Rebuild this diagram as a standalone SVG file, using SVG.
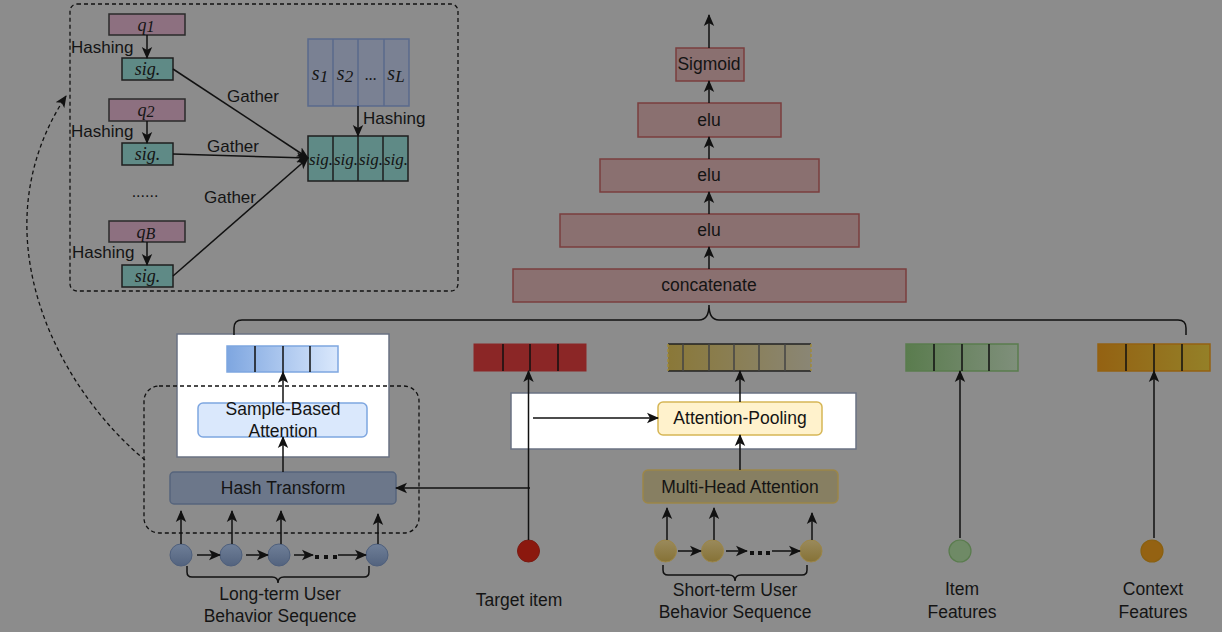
<svg xmlns="http://www.w3.org/2000/svg" width="1222" height="632" viewBox="0 0 1222 632">
<defs>
<style>
text{font-family:"Liberation Sans",Arial,sans-serif;fill:#141414;}
.t16{font-size:17.5px;text-anchor:middle;}
.t15{font-size:17px;}
.math{font-family:"Liberation Serif","Times New Roman",serif;font-style:italic;text-anchor:middle;}
.ln{stroke:#111;stroke-width:1.5;fill:none;}
.dash{stroke:#111;stroke-width:1.3;fill:none;stroke-dasharray:4 3;}
.qbox{fill:#8d7080;stroke:#2a2a2a;stroke-width:1.5;}
.sig{fill:#5f8a86;stroke:#1e1e1e;stroke-width:1.5;}
.sbox{fill:#7a8193;stroke:#5a6a8c;stroke-width:1.5;}
.dnn{fill:#8a7070;stroke:#7a3e3e;stroke-width:1.5;}
.cell{stroke:#111;stroke-width:1.5;}
</style>
<marker id="ah" viewBox="0 0 12 12" refX="11" refY="6" markerWidth="12" markerHeight="12" markerUnits="userSpaceOnUse" orient="auto">
<path d="M0,0.8 L12,6 L0,11.2 L3,6 z" fill="#111"/>
</marker>
<linearGradient id="gBlue" x1="0" y1="0" x2="1" y2="0"><stop offset="0" stop-color="#7ea6e0"/><stop offset="1" stop-color="#dae8fc"/></linearGradient>
<linearGradient id="gShort" x1="0" y1="0" x2="1" y2="0"><stop offset="0" stop-color="#8a7838"/><stop offset="1" stop-color="#8a8675"/></linearGradient>
<linearGradient id="gGreen" x1="0" y1="0" x2="1" y2="0"><stop offset="0" stop-color="#5a7c4e"/><stop offset="1" stop-color="#7f8f7b"/></linearGradient>
<linearGradient id="gCtx" x1="0" y1="0" x2="1" y2="0"><stop offset="0" stop-color="#946212"/><stop offset="1" stop-color="#948028"/></linearGradient>
<linearGradient id="gLong" x1="0" y1="0" x2="0" y2="1"><stop offset="0" stop-color="#6f7f98"/><stop offset="1" stop-color="#53637e"/></linearGradient>
<linearGradient id="gSc" x1="0" y1="0" x2="0" y2="1"><stop offset="0" stop-color="#9a8a5c"/><stop offset="1" stop-color="#867236"/></linearGradient>
</defs>
<rect width="1222" height="632" fill="#8c8c8c"/>

<!-- Hashing detail panel -->
<g id="hash-panel">
<rect x="70" y="4" width="388" height="287" rx="7" class="dash"/>
<g id="q1"><rect x="109" y="14" width="76" height="21" class="qbox"/><text x="146" y="31" class="math" font-size="18">q<tspan font-size="16" dy="1">1</tspan></text></g>
<g id="sig1"><rect x="122" y="58" width="51" height="22" class="sig"/><text x="147.5" y="75" class="math" font-size="18">sig.</text></g>
<g id="q2"><rect x="109" y="99" width="76" height="22" class="qbox"/><text x="146" y="116" class="math" font-size="18">q<tspan font-size="16" dy="1">2</tspan></text></g>
<g id="sig2"><rect x="122" y="143" width="51" height="22" class="sig"/><text x="147.5" y="160" class="math" font-size="18">sig.</text></g>
<g id="qB"><rect x="109" y="221" width="76" height="21" class="qbox"/><text x="146" y="238" class="math" font-size="18">q<tspan font-size="16" dy="1">B</tspan></text></g>
<g id="sigB"><rect x="122" y="265" width="51" height="22" class="sig"/><text x="147.5" y="282" class="math" font-size="18">sig.</text></g>
<text x="145" y="197" font-size="16" text-anchor="middle">......</text>
<g id="s-seq">
<rect x="308" y="39" width="101" height="67" class="sbox"/>
<path d="M333,39V106M358,39V106M384,39V106" stroke="#5a6a8c" stroke-width="1.5"/>
<text x="320" y="80" class="math" font-size="20">s<tspan font-size="17" dy="2">1</tspan></text>
<text x="345" y="80" class="math" font-size="20">s<tspan font-size="17" dy="2">2</tspan></text>
<text x="371" y="80" class="math" font-size="16" font-style="normal">...</text>
<text x="396" y="80" class="math" font-size="20">s<tspan font-size="17" dy="2">L</tspan></text>
</g>
<g id="sig-seq">
<rect x="308" y="136" width="100" height="45" class="sig"/>
<path d="M333,136V181M358,136V181M383,136V181" stroke="#1e1e1e" stroke-width="1.5"/>
<text x="321" y="165" class="math" font-size="17">sig.</text>
<text x="346" y="165" class="math" font-size="17">sig.</text>
<text x="371" y="165" class="math" font-size="17">sig.</text>
<text x="396" y="165" class="math" font-size="17">sig.</text>
</g>
<g id="hash-connectors">
<line x1="147" y1="35" x2="147" y2="58" class="ln" marker-end="url(#ah)"/>
<line x1="147" y1="121" x2="147" y2="143" class="ln" marker-end="url(#ah)"/>
<line x1="147" y1="242" x2="147" y2="265" class="ln" marker-end="url(#ah)"/>
<line x1="358" y1="106" x2="358" y2="136" class="ln" marker-end="url(#ah)"/>
<line x1="173" y1="69" x2="308" y2="158" class="ln" marker-end="url(#ah)"/>
<line x1="173" y1="154" x2="308" y2="158" class="ln" marker-end="url(#ah)"/>
<line x1="173" y1="276" x2="308" y2="158" class="ln" marker-end="url(#ah)"/>
<text x="71" y="53" class="t15">Hashing</text>
<text x="71" y="137" class="t15">Hashing</text>
<text x="72" y="258" class="t15">Hashing</text>
<text x="363" y="124" class="t15">Hashing</text>
<text x="227" y="102" class="t15">Gather</text>
<text x="207" y="152" class="t15">Gather</text>
<text x="204" y="203" class="t15">Gather</text>
</g>
</g>

<!-- DNN tower -->
<g id="sigmoid"><rect x="676" y="48" width="68" height="33" class="dnn"/><text x="709" y="70" class="t16">Sigmoid</text></g>
<g id="elu1"><rect x="638" y="103" width="143" height="34" class="dnn"/><text x="709" y="126" class="t16">elu</text></g>
<g id="elu2"><rect x="600" y="159" width="219" height="33" class="dnn"/><text x="709" y="181" class="t16">elu</text></g>
<g id="elu3"><rect x="560" y="214" width="299" height="33" class="dnn"/><text x="709" y="236" class="t16">elu</text></g>
<g id="concat"><rect x="513" y="269" width="393" height="33" class="dnn"/><text x="709" y="291" class="t16">concatenate</text></g>

<!-- Long-term branch -->
<g id="sba-panel">
<rect x="177" y="334" width="212" height="123" fill="#ffffff" stroke="#6a7282" stroke-width="1.5"/>
<rect x="227" y="346" width="111" height="26" fill="url(#gBlue)" stroke="#7ea6e0" stroke-width="1.5"/>
<path d="M255,346V372M283,346V372M310,346V372" class="cell"/>
</g>
<g id="sample-based-attention">
<rect x="198" y="403" width="169" height="34" rx="5" fill="#dae8fc" stroke="#7ea6e0" stroke-width="1.5"/>
<text x="283" y="415" class="t16">Sample-Based</text>
<text x="283" y="437" class="t16">Attention</text>
</g>
<g id="hash-transform">
<rect x="170" y="472" width="226" height="32" rx="4" fill="#6c778a" stroke="#56647c" stroke-width="1.5"/>
<text x="283" y="494" class="t16">Hash Transform</text>
</g>
<g id="long-dashed"><rect x="144" y="386" width="275" height="147" rx="15" class="dash"/></g>
<g id="long-seq">
<circle cx="181" cy="555" r="11" fill="url(#gLong)" stroke="#4e5f7c" stroke-width="1"/>
<circle cx="231" cy="555" r="11" fill="url(#gLong)" stroke="#4e5f7c" stroke-width="1"/>
<circle cx="279" cy="555" r="11" fill="url(#gLong)" stroke="#4e5f7c" stroke-width="1"/>
<circle cx="377" cy="555" r="11" fill="url(#gLong)" stroke="#4e5f7c" stroke-width="1"/>
<rect x="315" y="555" width="4" height="4" fill="#111"/><rect x="324" y="555" width="4" height="4" fill="#111"/><rect x="333" y="555" width="4" height="4" fill="#111"/>
<text x="280" y="600" class="t16">Long-term User</text>
<text x="280" y="622" class="t16">Behavior Sequence</text>
</g>

<!-- Target item -->
<g id="target-vec">
<rect x="474" y="344" width="112" height="27" fill="#8b2626" stroke="#8b2626" stroke-width="1"/>
<path d="M503,344V371M530,344V371M558,344V371" class="cell"/>
</g>
<g id="target-item">
<circle cx="528.5" cy="551" r="11" fill="#8b180e" stroke="#7a1a12" stroke-width="1"/>
<text x="519" y="606" class="t16">Target item</text>
</g>

<!-- Short-term branch -->
<g id="ap-panel"><rect x="511" y="393" width="345" height="56" fill="#ffffff" stroke="#6a7282" stroke-width="1.5"/></g>
<g id="attention-pooling">
<rect x="658" y="402" width="164" height="33" rx="5" fill="#fff2cc" stroke="#d6b656" stroke-width="1.5"/>
<text x="740" y="424" class="t16">Attention-Pooling</text>
</g>
<g id="short-vec">
<rect x="668" y="344" width="143" height="27" fill="url(#gShort)"/>
<path d="M668,344H811M668,371H811" stroke="#222" stroke-width="1.5"/>
<path d="M668,344V371M811,344V371" stroke="#a08a3a" stroke-width="1.5" stroke-dasharray="3 2"/>
<path d="M683,344V371M709,344V371M734,344V371M759,344V371M785,344V371" stroke="#444" stroke-width="1.5"/>
</g>
<g id="multi-head-attention">
<rect x="643" y="470" width="195" height="33" rx="5" fill="#877f62" stroke="#9c8648" stroke-width="1.5"/>
<text x="740" y="493" class="t16">Multi-Head Attention</text>
</g>
<g id="short-seq">
<circle cx="665.5" cy="551" r="11" fill="url(#gSc)" stroke="#9c8648" stroke-width="1"/>
<circle cx="712.5" cy="551" r="11" fill="url(#gSc)" stroke="#9c8648" stroke-width="1"/>
<circle cx="811" cy="551" r="11" fill="url(#gSc)" stroke="#9c8648" stroke-width="1"/>
<rect x="750" y="551" width="4" height="4" fill="#111"/><rect x="758" y="551" width="4" height="4" fill="#111"/><rect x="766" y="551" width="4" height="4" fill="#111"/>
<text x="735" y="596" class="t16">Short-term User</text>
<text x="735" y="618" class="t16">Behavior Sequence</text>
</g>

<!-- Item features -->
<g id="item-vec">
<rect x="906" y="344" width="112" height="27" fill="url(#gGreen)" stroke="#5a7c4e" stroke-width="1.5"/>
<path d="M934,344V371M962,344V371M989,344V371" class="cell"/>
</g>
<g id="item-features">
<circle cx="960" cy="551" r="11" fill="#6f8a66" stroke="#5a7c4e" stroke-width="1.2"/>
<text x="962" y="595" class="t16">Item</text>
<text x="962" y="618" class="t16">Features</text>
</g>

<!-- Context features -->
<g id="context-vec">
<rect x="1098" y="344" width="112" height="27" fill="url(#gCtx)" stroke="#946212" stroke-width="1.5"/>
<path d="M1126,344V371M1154,344V371M1182,344V371" class="cell"/>
</g>
<g id="context-features">
<circle cx="1152" cy="551" r="11" fill="#946212" stroke="#8a6010" stroke-width="1.2"/>
<text x="1153" y="595" class="t16">Context</text>
<text x="1153" y="618" class="t16">Features</text>
</g>

<!-- Connectors -->
<g id="connectors">
<line x1="709" y1="48" x2="709" y2="15" class="ln" marker-end="url(#ah)"/>
<line x1="709" y1="103" x2="709" y2="81" class="ln" marker-end="url(#ah)"/>
<line x1="709" y1="159" x2="709" y2="137" class="ln" marker-end="url(#ah)"/>
<line x1="709" y1="214" x2="709" y2="192" class="ln" marker-end="url(#ah)"/>
<line x1="709" y1="269" x2="709" y2="247" class="ln" marker-end="url(#ah)"/>
<path d="M234,335V328Q234,320 242,320H699Q709,320 709,305Q709,320 719,320H1178Q1186,320 1186,328V335" class="ln"/>
<line x1="283" y1="403" x2="283" y2="372" class="ln" marker-end="url(#ah)"/>
<line x1="283" y1="472" x2="283" y2="437" class="ln" marker-end="url(#ah)"/>
<line x1="530" y1="488" x2="396" y2="488" class="ln" marker-end="url(#ah)"/>
<line x1="181" y1="544" x2="181" y2="511" class="ln" marker-end="url(#ah)"/>
<line x1="232" y1="544" x2="232" y2="511" class="ln" marker-end="url(#ah)"/>
<line x1="281" y1="544" x2="281" y2="511" class="ln" marker-end="url(#ah)"/>
<line x1="378" y1="544" x2="378" y2="514" class="ln" marker-end="url(#ah)"/>
<line x1="197" y1="555" x2="220" y2="555" class="ln" marker-end="url(#ah)"/>
<line x1="246" y1="555" x2="268" y2="555" class="ln" marker-end="url(#ah)"/>
<line x1="294" y1="555" x2="313" y2="555" class="ln" marker-end="url(#ah)"/>
<line x1="338" y1="555" x2="366" y2="555" class="ln" marker-end="url(#ah)"/>
<path d="M187,566V572Q187,577 192,577H272Q278,577 278,583Q278,577 284,577H364Q369,577 369,572V566" class="ln"/>
<line x1="528.5" y1="540" x2="528.5" y2="371" class="ln" marker-end="url(#ah)"/>
<line x1="533" y1="418" x2="658" y2="418" class="ln" marker-end="url(#ah)"/>
<line x1="740" y1="470" x2="740" y2="435" class="ln" marker-end="url(#ah)"/>
<line x1="740" y1="402" x2="740" y2="371" class="ln" marker-end="url(#ah)"/>
<line x1="667" y1="540" x2="667" y2="508" class="ln" marker-end="url(#ah)"/>
<line x1="714" y1="540" x2="714" y2="508" class="ln" marker-end="url(#ah)"/>
<line x1="812" y1="540" x2="812" y2="513" class="ln" marker-end="url(#ah)"/>
<line x1="678" y1="551" x2="701" y2="551" class="ln" marker-end="url(#ah)"/>
<line x1="726" y1="551" x2="747" y2="551" class="ln" marker-end="url(#ah)"/>
<line x1="772" y1="551" x2="800" y2="551" class="ln" marker-end="url(#ah)"/>
<path d="M663,565V570Q663,575 668,575H729Q735,575 735,581Q735,575 741,575H802Q807,575 807,570V565" class="ln"/>
<line x1="960" y1="538" x2="960" y2="371" class="ln" marker-end="url(#ah)"/>
<line x1="1154" y1="538" x2="1154" y2="371" class="ln" marker-end="url(#ah)"/>
<path d="M145,460C60,390 -25,235 66,96" class="dash" marker-end="url(#ah)"/>
</g>
</svg>
